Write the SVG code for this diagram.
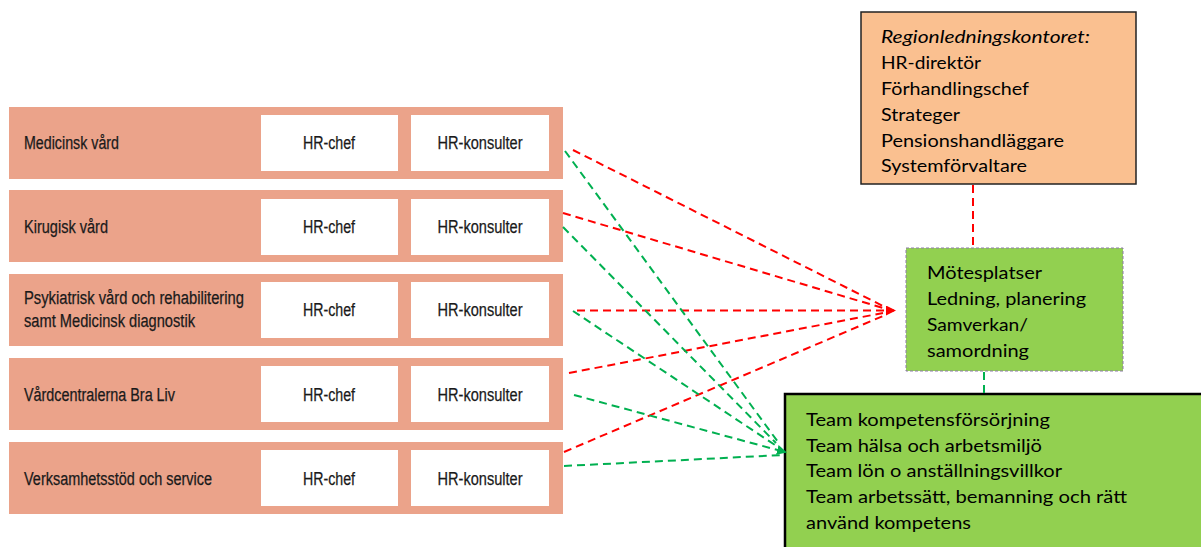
<svg xmlns="http://www.w3.org/2000/svg" width="1201" height="547" viewBox="0 0 1201 547">
<defs>
<style>
.row{fill:#EBA38A}
.wb{fill:#FFFFFF}
.lbl{font-family:"Liberation Sans Narrow","Liberation Sans",Arial,sans-serif;font-size:18px;fill:#1a1a1a;stroke:#1a1a1a;stroke-width:0.25}
.hr{font-family:"Liberation Sans Narrow","Liberation Sans",Arial,sans-serif;font-size:18px;fill:#1a1a1a;stroke:#1a1a1a;stroke-width:0.25;text-anchor:middle}
.cal{font-family:Lato,"Liberation Sans",Arial,sans-serif;font-size:18px;fill:#000}
.red{stroke:#FF0000;stroke-width:2;stroke-dasharray:8 5;fill:none}
.grn{stroke:#00B050;stroke-width:2;stroke-dasharray:8 5;fill:none}
</style>
<marker id="ar" markerWidth="10" markerHeight="10" refX="8" refY="5" orient="auto" markerUnits="userSpaceOnUse" viewBox="0 0 10 10">
<path d="M0,0 L10,5 L0,10 z" fill="#FF0000"/>
</marker>
<marker id="ag" markerWidth="10" markerHeight="10" refX="8" refY="5" orient="auto" markerUnits="userSpaceOnUse" viewBox="0 0 10 10">
<path d="M0,0 L10,5 L0,10 z" fill="#00B050"/>
</marker>
</defs>
<rect width="1201" height="547" fill="#FFFFFF"/>

<g id="row-medicinsk">
<rect class="row" x="9" y="107" width="554" height="72"/>
<rect class="wb" x="261" y="115" width="137" height="56"/>
<rect class="wb" x="411" y="115" width="138" height="56"/>
<text class="lbl" x="24" y="149" textLength="95" lengthAdjust="spacingAndGlyphs">Medicinsk vård</text>
<text class="hr" x="329" y="149" textLength="52" lengthAdjust="spacingAndGlyphs">HR-chef</text>
<text class="hr" x="480" y="149" textLength="85" lengthAdjust="spacingAndGlyphs">HR-konsulter</text>
</g>

<g id="row-kirugisk">
<rect class="row" x="9" y="190" width="554" height="72"/>
<rect class="wb" x="261" y="199" width="137" height="56"/>
<rect class="wb" x="411" y="199" width="138" height="56"/>
<text class="lbl" x="24" y="233" textLength="84" lengthAdjust="spacingAndGlyphs">Kirugisk vård</text>
<text class="hr" x="329" y="233" textLength="52" lengthAdjust="spacingAndGlyphs">HR-chef</text>
<text class="hr" x="480" y="233" textLength="85" lengthAdjust="spacingAndGlyphs">HR-konsulter</text>
</g>

<g id="row-psykiatrisk">
<rect class="row" x="9" y="274" width="554" height="72"/>
<rect class="wb" x="261" y="282" width="137" height="56"/>
<rect class="wb" x="411" y="282" width="138" height="56"/>
<text class="lbl" x="24" y="304" textLength="220" lengthAdjust="spacingAndGlyphs">Psykiatrisk vård och rehabilitering</text>
<text class="lbl" x="24" y="327" textLength="171" lengthAdjust="spacingAndGlyphs">samt Medicinsk diagnostik</text>
<text class="hr" x="329" y="316" textLength="52" lengthAdjust="spacingAndGlyphs">HR-chef</text>
<text class="hr" x="480" y="316" textLength="85" lengthAdjust="spacingAndGlyphs">HR-konsulter</text>
</g>

<g id="row-vardcentralerna">
<rect class="row" x="9" y="358" width="554" height="72"/>
<rect class="wb" x="261" y="366" width="137" height="56"/>
<rect class="wb" x="411" y="366" width="138" height="56"/>
<text class="lbl" x="24" y="401" textLength="151" lengthAdjust="spacingAndGlyphs">Vårdcentralerna Bra Liv</text>
<text class="hr" x="329" y="401" textLength="52" lengthAdjust="spacingAndGlyphs">HR-chef</text>
<text class="hr" x="480" y="401" textLength="85" lengthAdjust="spacingAndGlyphs">HR-konsulter</text>
</g>

<g id="row-verksamhetsstod">
<rect class="row" x="9" y="442" width="554" height="72"/>
<rect class="wb" x="261" y="450" width="137" height="56"/>
<rect class="wb" x="411" y="450" width="138" height="56"/>
<text class="lbl" x="24" y="485" textLength="188" lengthAdjust="spacingAndGlyphs">Verksamhetsstöd och service</text>
<text class="hr" x="329" y="485" textLength="52" lengthAdjust="spacingAndGlyphs">HR-chef</text>
<text class="hr" x="480" y="485" textLength="85" lengthAdjust="spacingAndGlyphs">HR-konsulter</text>
</g>

<g id="regionledningskontoret">
<rect x="861" y="12" width="275" height="172" fill="#FAC090" stroke="#222" stroke-width="1.5"/>
<text class="cal" x="881" y="43" font-style="italic" textLength="209" lengthAdjust="spacingAndGlyphs">Regionledningskontoret:</text>
<text class="cal" x="881" y="69" textLength="100" lengthAdjust="spacingAndGlyphs">HR-direktör</text>
<text class="cal" x="881" y="95" textLength="148" lengthAdjust="spacingAndGlyphs">Förhandlingschef</text>
<text class="cal" x="881" y="121" textLength="79" lengthAdjust="spacingAndGlyphs">Strateger</text>
<text class="cal" x="881" y="147" textLength="183" lengthAdjust="spacingAndGlyphs">Pensionshandläggare</text>
<text class="cal" x="881" y="172" textLength="146" lengthAdjust="spacingAndGlyphs">Systemförvaltare</text>
</g>

<g id="motesplatser">
<rect x="906" y="248" width="217" height="123" fill="#92D050" stroke="#8C7BA8" stroke-width="1" stroke-dasharray="3 2"/>
<text class="cal" x="927" y="279" textLength="115" lengthAdjust="spacingAndGlyphs">Mötesplatser</text>
<text class="cal" x="927" y="305" textLength="159" lengthAdjust="spacingAndGlyphs">Ledning, planering</text>
<text class="cal" x="927" y="331" textLength="101" lengthAdjust="spacingAndGlyphs">Samverkan/</text>
<text class="cal" x="927" y="357" textLength="102" lengthAdjust="spacingAndGlyphs">samordning</text>
</g>

<g id="team">
<rect x="785" y="394" width="430" height="170" fill="#92D050" stroke="#000" stroke-width="2.5"/>
<text class="cal" x="806" y="426" textLength="244" lengthAdjust="spacingAndGlyphs">Team kompetensförsörjning</text>
<text class="cal" x="806" y="452" textLength="236" lengthAdjust="spacingAndGlyphs">Team hälsa och arbetsmiljö</text>
<text class="cal" x="806" y="477" textLength="256" lengthAdjust="spacingAndGlyphs">Team lön o anställningsvillkor</text>
<text class="cal" x="806" y="503" textLength="321" lengthAdjust="spacingAndGlyphs">Team arbetssätt, bemanning och rätt</text>
<text class="cal" x="806" y="529" textLength="165" lengthAdjust="spacingAndGlyphs">använd kompetens</text>
</g>

<g id="connectors">
<line class="red" x1="573" y1="150" x2="883" y2="306"/>
<line class="red" x1="563" y1="213" x2="883" y2="308"/>
<line class="red" x1="577" y1="310.5" x2="894" y2="310.5" marker-end="url(#ar)"/>
<line class="red" x1="569" y1="373" x2="883" y2="313"/>
<line class="red" x1="564" y1="452" x2="883" y2="316"/>
<line class="red" x1="973" y1="185" x2="973" y2="248"/>
<line class="grn" x1="565" y1="151" x2="778" y2="442"/>
<line class="grn" x1="563" y1="227" x2="776" y2="443"/>
<line class="grn" x1="573" y1="311" x2="775" y2="445"/>
<line class="grn" x1="574" y1="395" x2="785" y2="452" marker-end="url(#ag)"/>
<line class="grn" x1="564" y1="466" x2="783" y2="455"/>
<line class="grn" x1="984" y1="372" x2="984" y2="394"/>
</g>
</svg>
